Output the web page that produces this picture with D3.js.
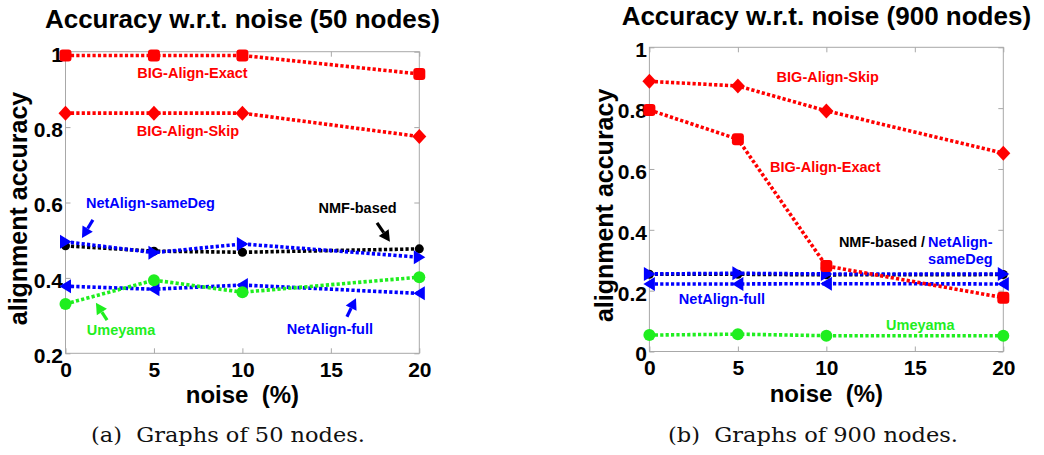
<!DOCTYPE html>
<html>
<head>
<meta charset="utf-8">
<script src="https://cdn.jsdelivr.net/npm/d3@7"></script>
<style>
  html, body { margin: 0; padding: 0; background: #fff; }
  svg { display: block; }
</style>
</head>
<body>
<svg id="chart" width="1044" height="455" font-family="Liberation Sans, Arial, Helvetica, sans-serif"></svg>
<script>
// ---------------- data ----------------
const noise = [0, 5, 10, 20];
const xTicks = [0, 5, 10, 15, 20];
const yTicks50 = [0.2, 0.4, 0.6, 0.8, 1];
const yTicks900 = [0, 0.2, 0.4, 0.6, 0.8, 1];
const yTickLabels50 = ["0.2", "0.4", "0.6", "0.8", "1"];
const yTickLabels900 = ["0", "0.2", "0.4", "0.6", "0.8", "1"];

// 50 nodes
const exact50    = [0.990, 0.990, 0.990, 0.941];
const skip50     = [0.837, 0.837, 0.837, 0.775];
const sameDeg50  = [0.496, 0.467, 0.490, 0.455];
const nmf50      = [0.485, 0.471, 0.468, 0.477];
const full50     = [0.378, 0.370, 0.381, 0.359];
const umeyama50  = [0.331, 0.394, 0.362, 0.402];

// 900 nodes
const exact900   = [0.794, 0.698, 0.281, 0.177];
const skip900    = [0.888, 0.873, 0.791, 0.652];
const sameDeg900 = [0.255, 0.257, 0.255, 0.255];
const nmf900     = [0.254, 0.254, 0.252, 0.253];
const full900    = [0.222, 0.222, 0.223, 0.222];
const umeyama900 = [0.054, 0.057, 0.052, 0.052];

const titles = ["Accuracy w.r.t. noise (50 nodes)", "Accuracy w.r.t. noise (900 nodes)"];
const captions = ["(a)  Graphs of 50 nodes.", "(b)  Graphs of 900 nodes."];
const yLabel = "alignment accuracy";
const xLabel = "noise  (%)";

// ---------------- styles ----------------
const RED = "#ff0000", BLUE = "#0000ff", BLACK = "#000000", GREEN = "#1fee1f";
const AXIS_GRAY = "#a8a8a8";

const svg = d3.select("#chart");

function markerPath(kind) {
  switch (kind) {
    case "diamond": return "M0,-7.5L7,0L0,7.5L-7,0Z";
    case "tri-right": return "M-5.5,-7L6,0L-5.5,7Z";
    case "tri-left": return "M5.5,-7L-6,0L5.5,7Z";
    default: return null;
  }
}

function drawPanel(p) {
  const x = d3.scaleLinear().domain([0, 20]).range([p.left, p.right]);
  const y = d3.scaleLinear().domain(p.yDomain).range([p.bottom, p.top]);
  const g = svg.append("g");

  // box
  g.append("rect")
    .attr("x", p.left).attr("y", p.top)
    .attr("width", p.right - p.left).attr("height", p.bottom - p.top)
    .attr("fill", "none").attr("stroke", AXIS_GRAY).attr("stroke-width", 1);

  // axes (ticks inward)
  const xb = g.append("g").attr("transform", `translate(0,${p.bottom})`)
    .call(d3.axisBottom(x).tickValues(xTicks).tickFormat(d3.format("d"))
      .tickSizeInner(-5).tickSizeOuter(0).tickPadding(9));
  const xt = g.append("g").attr("transform", `translate(0,${p.top})`)
    .call(d3.axisTop(x).tickValues(xTicks).tickFormat("").tickSizeInner(-5).tickSizeOuter(0));
  const yl = g.append("g").attr("transform", `translate(${p.left},0)`)
    .call(d3.axisLeft(y).tickValues(p.yTicks).tickFormat((d, i) => p.yTickLabels[i])
      .tickSizeInner(-5).tickSizeOuter(0).tickPadding(2.5));
  const yr = g.append("g").attr("transform", `translate(${p.right},0)`)
    .call(d3.axisRight(y).tickValues(p.yTicks).tickFormat("").tickSizeInner(-5).tickSizeOuter(0));
  [xb, xt, yl, yr].forEach(a => {
    a.attr("font-family", null).attr("font-size", null);
    a.select(".domain").remove();
    a.selectAll(".tick line").attr("stroke", AXIS_GRAY);
    a.selectAll("text").attr("fill", "#000").attr("font-weight", "bold")
      .attr("font-size", 21);
  });
  yl.selectAll("text").attr("dy", "0.45em");

  // title
  g.append("text").attr("x", (p.left + p.right) / 2).attr("y", p.titleY)
    .attr("text-anchor", "middle").attr("font-weight", "bold").attr("font-size", 26)
    .text(p.title);

  // axis labels
  g.append("text")
    .attr("transform", `translate(${p.left - p.yLabelOffset},${(p.top + p.bottom) / 2 + 6}) rotate(-90)`)
    .attr("text-anchor", "middle").attr("font-weight", "bold").attr("font-size", 25)
    .text(yLabel);
  g.append("text").attr("x", (p.left + p.right) / 2).attr("y", p.bottom + 50)
    .attr("text-anchor", "middle").attr("font-weight", "bold").attr("font-size", 24)
    .style("white-space", "pre")
    .text(xLabel);

  // series
  const line = d3.line().x((d, i) => x(noise[i])).y(d => y(d));
  p.series.forEach(s => {
    g.append("path").datum(s.values)
      .attr("d", line).attr("fill", "none").attr("stroke", s.color)
      .attr("stroke-width", 3.6).attr("stroke-dasharray", "3.2,2.2");
    const m = g.append("g");
    s.values.forEach((v, i) => {
      if (s.marker === "circle") {
        m.append("circle").attr("cx", x(noise[i])).attr("cy", y(v)).attr("r", s.r).attr("fill", s.color);
      } else if (s.marker === "square") {
        m.append("rect").attr("x", x(noise[i]) - 6).attr("y", y(v) - 6)
          .attr("width", 12).attr("height", 12).attr("rx", 3).attr("fill", s.color);
      } else {
        m.append("path").attr("d", markerPath(s.marker))
          .attr("transform", `translate(${x(noise[i])},${y(v)})`).attr("fill", s.color);
      }
    });
  });

  // annotations
  p.labels.forEach(l => {
    g.append("text").attr("x", x(l.x)).attr("y", y(l.y))
      .attr("text-anchor", l.anchor || "middle").attr("dominant-baseline", "central")
      .attr("font-weight", "bold").attr("font-size", 14.5).attr("fill", l.color)
      .text(l.text);
  });
  p.arrows.forEach(a => {
    const x1 = x(a.from[0]), y1 = y(a.from[1]), x2 = x(a.to[0]), y2 = y(a.to[1]);
    const ang = Math.atan2(y2 - y1, x2 - x1);
    const hl = 11, hw = 6;
    const bx = x2 - hl * Math.cos(ang), by = y2 - hl * Math.sin(ang);
    g.append("line").attr("x1", x1).attr("y1", y1).attr("x2", bx).attr("y2", by)
      .attr("stroke", a.color).attr("stroke-width", 3.2);
    const px = -Math.sin(ang) * hw, py = Math.cos(ang) * hw;
    g.append("path")
      .attr("d", `M${x2},${y2}L${bx + px},${by + py}L${bx - px},${by - py}Z`)
      .attr("fill", a.color);
  });

  // caption
  svg.append("text").attr("x", p.captionX).attr("y", 442)
    .attr("text-anchor", "middle")
    .style("font-family", "'DejaVu Serif', 'Liberation Serif', serif")
    .attr("font-size", 21).attr("fill", "#111")
    .attr("textLength", p.captionW).attr("lengthAdjust", "spacingAndGlyphs")
    .style("white-space", "pre")
    .text(p.caption);
}

drawPanel({
  left: 65.5, right: 419.3, top: 51.7, bottom: 353.3,
  yDomain: [0.2, 1], yTicks: yTicks50, yTickLabels: yTickLabels50,
  title: titles[0], titleY: 28, yLabelOffset: 38.5,
  caption: captions[0], captionX: 228, captionW: 274,
  series: [
    { values: nmf50, color: BLACK, marker: "circle", r: 4.5 },
    { values: sameDeg50, color: BLUE, marker: "tri-right" },
    { values: full50, color: BLUE, marker: "tri-left" },
    { values: umeyama50, color: GREEN, marker: "circle", r: 6 },
    { values: exact50, color: RED, marker: "square" },
    { values: skip50, color: RED, marker: "diamond" }
  ],
  labels: [
    { text: "BIG-Align-Exact", x: 7.18, y: 0.944, color: RED },
    { text: "BIG-Align-Skip", x: 6.92, y: 0.790, color: RED },
    { text: "NetAlign-sameDeg", x: 4.80, y: 0.600, color: BLUE },
    { text: "NMF-based", x: 16.51, y: 0.585, color: BLACK },
    { text: "Umeyama", x: 3.14, y: 0.262, color: GREEN },
    { text: "NetAlign-full", x: 14.95, y: 0.264, color: BLUE }
  ],
  arrows: [
    { from: [1.55, 0.554], to: [0.93, 0.506], color: BLUE },
    { from: [17.61, 0.546], to: [18.34, 0.496], color: BLACK },
    { from: [2.35, 0.288], to: [1.72, 0.334], color: GREEN },
    { from: [15.91, 0.297], to: [16.42, 0.346], color: BLUE }
  ]
});

drawPanel({
  left: 649.4, right: 1003.3, top: 47.3, bottom: 351.5,
  yDomain: [0, 1], yTicks: yTicks900, yTickLabels: yTickLabels900,
  title: titles[1], titleY: 25, yLabelOffset: 36,
  caption: captions[1], captionX: 813, captionW: 290,
  series: [
    { values: nmf900, color: BLACK, marker: "circle", r: 4.5 },
    { values: sameDeg900, color: BLUE, marker: "tri-right" },
    { values: full900, color: BLUE, marker: "tri-left" },
    { values: umeyama900, color: GREEN, marker: "circle", r: 6 },
    { values: exact900, color: RED, marker: "square" },
    { values: skip900, color: RED, marker: "diamond" }
  ],
  labels: [
    { text: "BIG-Align-Skip", x: 10.08, y: 0.901, color: RED },
    { text: "BIG-Align-Exact", x: 9.94, y: 0.605, color: RED },
    { text: "NMF-based /", x: 15.58, y: 0.359, color: BLACK, anchor: "end" },
    { text: "NetAlign-", x: 15.75, y: 0.359, color: BLUE, anchor: "start" },
    { text: "sameDeg", x: 15.75, y: 0.303, color: BLUE, anchor: "start" },
    { text: "NetAlign-full", x: 4.10, y: 0.172, color: BLUE },
    { text: "Umeyama", x: 15.31, y: 0.087, color: GREEN }
  ],
  arrows: []
});
</script>
</body>
</html>
